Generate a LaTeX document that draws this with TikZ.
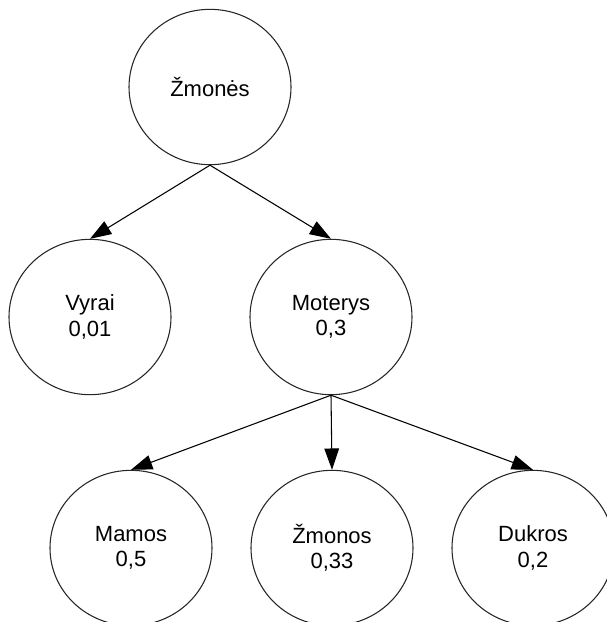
\documentclass[tikz,border=0pt]{standalone}
\usepackage{fontspec}
\setmainfont{Liberation Sans}
\usetikzlibrary{shapes.geometric,arrows.meta}
\tikzset{
  px/.style={x=0.75pt,y=-0.75pt},
  circ/.style={ellipse,draw=black!85,line width=0.8pt,minimum width=121.5pt,minimum height=116.5pt,
    align=center,font=\fontsize{16.5}{19}\selectfont,inner sep=0pt},
  arr/.style={line width=0.8pt,-{Triangle[length=16pt,width=11pt]}}
}
\begin{document}
\begin{tikzpicture}[px]
\useasboundingbox (0,0) rectangle (607,622);
\clip (0,0) rectangle (607,622);
\node[circ] (top) at (210,87) {Žmonės};
\node[circ] (vyr) at (90,317) {Vyrai\\0,01};
\node[circ] (mot) at (331,317) {Moterys\\0,3};
\node[circ] (mam) at (131,548) {Mamos\\0,5};
\node[circ] (zmo) at (332,548) {Žmonos\\0,33};
\node[circ] (duk) at (533,548) {Dukros\\0,2};
\draw[arr] (top.south) -- (vyr.north);
\draw[arr] (top.south) -- (mot.north);
\draw[arr] (mot.south) -- (mam.north);
\draw[arr] (mot.south) -- (zmo.north);
\draw[arr] (mot.south) -- (duk.north);
\end{tikzpicture}
\end{document}
